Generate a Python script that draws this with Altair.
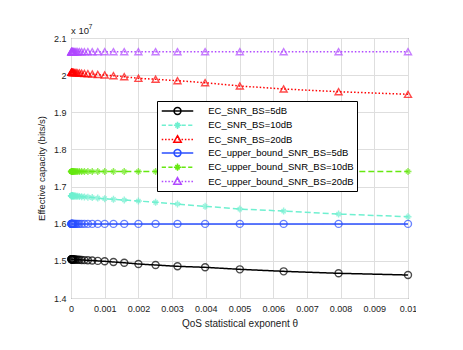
import altair as alt
import pandas as pd

# ---------------- data (capacity in units of 1e7 bits/s) ----------------
theta = [1.0e-5, 1.26e-5, 1.58e-5, 2.0e-5, 2.51e-5, 3.16e-5, 3.98e-5, 5.01e-5, 6.31e-5, 7.94e-5,
         1.0e-4, 1.26e-4, 1.58e-4, 2.0e-4, 2.51e-4, 3.16e-4, 3.98e-4, 5.01e-4, 6.31e-4, 7.94e-4,
         1.0e-3, 1.26e-3, 1.58e-3, 2.0e-3, 2.51e-3, 3.16e-3, 3.98e-3, 5.01e-3, 6.31e-3, 7.94e-3,
         1.0e-2]

ec_5db = [1.5042, 1.5041, 1.5041, 1.5041, 1.5040, 1.5040, 1.5040, 1.5039, 1.5039, 1.5038,
          1.5037, 1.5035, 1.5033, 1.5031, 1.5029, 1.5025, 1.5020, 1.5015, 1.5008, 1.4999,
          1.4988, 1.4969, 1.4950, 1.4915, 1.4888, 1.4853, 1.4826, 1.4772, 1.4718, 1.4665,
          1.4619]
ec_10db = [1.6754, 1.6754, 1.6753, 1.6753, 1.6752, 1.6752, 1.6751, 1.6750, 1.6749, 1.6748,
           1.6746, 1.6744, 1.6741, 1.6738, 1.6734, 1.6729, 1.6722, 1.6714, 1.6704, 1.6690,
           1.6673, 1.6657, 1.6638, 1.6611, 1.6576, 1.6530, 1.6468, 1.6395, 1.6341, 1.6260,
           1.6188]
ec_20db = [2.0077, 2.0077, 2.0076, 2.0076, 2.0075, 2.0075, 2.0074, 2.0073, 2.0072, 2.0071,
           2.0069, 2.0067, 2.0064, 2.0061, 2.0057, 2.0052, 2.0046, 2.0038, 2.0030, 2.0018,
           2.0004, 1.9985, 1.9958, 1.9915, 1.9890, 1.9850, 1.9796, 1.9708, 1.9627, 1.9554,
           1.9484]
ub_5db = [1.5995] * 31
ub_10db = [1.7405] * 31
ub_20db = [2.0630] * 31

names = ["EC_SNR_BS=5dB", "EC_SNR_BS=10dB", "EC_SNR_BS=20dB",
         "EC_upper_bound_SNR_BS=5dB", "EC_upper_bound_SNR_BS=10dB", "EC_upper_bound_SNR_BS=20dB"]
series_values = [ec_5db, ec_10db, ec_20db, ub_5db, ub_10db, ub_20db]

x_ticks = [0, 0.001, 0.002, 0.003, 0.004, 0.005, 0.006, 0.007, 0.008, 0.009, 0.01]
y_ticks = [1.4, 1.5, 1.6, 1.7, 1.8, 1.9, 2.0, 2.1]

# ---------------- styles ----------------
colors = ["#000000", "#6ff0d0", "#ff0000", "#2a4fff", "#66e810", "#b048ff"]
dashes = [[1, 0], [6, 3], [1.5, 2], [1, 0], [6, 3], [1.5, 2]]

star = "M-1,0L1,0M0,-1L0,1M-0.6,-0.6L0.6,0.6M-0.6,0.6L0.6,-0.6M-0.35,0L0,-0.35L0.35,0L0,0.35Z"
marker_shapes = ["circle", star, "triangle-up", "circle", star, "triangle-up"]


def seg_path(half, seg, gap):
    if gap <= 0:
        return f"M{-half},0L{half},0"
    parts, x = [], -half
    while x < half:
        x2 = min(x + seg, half)
        parts.append(f"M{x:.3f},0L{x2:.3f},0")
        x = x2 + gap
    return "".join(parts)


HALF = 2.625
solid = seg_path(HALF, 0, 0)
dashed = seg_path(HALF, 0.7, 0.4)
dotted = seg_path(HALF, 0.25, 0.3)
lg_circle = "M0.58,0A0.58,0.58 0 1 1 -0.58,0A0.58,0.58 0 1 1 0.58,0Z"
lg_star = ("M-0.6,0L0.6,0M0,-0.6L0,0.6M-0.36,-0.36L0.36,0.36M-0.36,0.36L0.36,-0.36"
           "M-0.2,0L0,-0.2L0.2,0L0,0.2Z")
lg_tri = "M0,-0.65L0.62,0.45L-0.62,0.45Z"
legend_paths = [solid + lg_circle, dashed + lg_star, dotted + lg_tri,
                solid + lg_circle, dashed + lg_star, dotted + lg_tri]

rows = []
for name, vals in zip(names, series_values):
    for t, v in zip(theta, vals):
        rows.append({"theta": t, "ec": v, "series": name})
df = pd.DataFrame(rows)
legend_df = pd.DataFrame({"series": names})

FONT = "Liberation Sans"

x_enc = alt.X("theta:Q", scale=alt.Scale(domain=[0, 0.01], nice=False, zero=False),
              axis=alt.Axis(values=x_ticks, format=".3~f", title="QoS statistical exponent θ",
                            labelPadding=6, titlePadding=5, labelFlush=False))
y_enc = alt.Y("ec:Q", scale=alt.Scale(domain=[1.4, 2.1], nice=False, zero=False),
              axis=alt.Axis(values=y_ticks, format=".1~f", title="Effective capacity (bits/s)",
                            labelPadding=5, titlePadding=7, titleFontSize=9.5))

color_scale = alt.Scale(domain=names, range=colors)

lines = alt.Chart(df).mark_line(strokeWidth=1.5).encode(
    x=x_enc, y=y_enc,
    color=alt.Color("series:N", scale=color_scale, legend=None),
    strokeDash=alt.StrokeDash("series:N", scale=alt.Scale(domain=names, range=dashes), legend=None),
)

points = alt.Chart(df).mark_point(filled=False, size=49, strokeWidth=1.4).encode(
    x=x_enc, y=y_enc,
    color=alt.Color("series:N", scale=color_scale, legend=None),
    shape=alt.Shape("series:N", scale=alt.Scale(domain=names, range=marker_shapes), legend=None),
)

leg = alt.Legend(title=None, orient="none", legendX=86, legendY=63, padding=3,
                 strokeColor="#000000", fillColor="white", cornerRadius=0,
                 symbolSize=144, symbolStrokeWidth=1.5, symbolOffset=10.5, symbolOpacity=1,
                 labelOffset=23.7, labelFont=FONT, labelFontSize=9.5, labelColor="#000000",
                 labelLimit=400, rowPadding=0.3)

legend_layer = alt.Chart(legend_df).mark_point(filled=False, opacity=0).encode(
    color=alt.Color("series:N", scale=color_scale, legend=leg),
    shape=alt.Shape("series:N", scale=alt.Scale(domain=names, range=legend_paths), legend=leg),
)

exp_base = alt.Chart(alt.Data(values=[{}])).mark_text(
    text="x 10", align="left", baseline="alphabetic", font=FONT, fontSize=9.5, color="#222222"
).encode(x=alt.value(0), y=alt.value(-4.5))
exp_sup = alt.Chart(alt.Data(values=[{}])).mark_text(
    text="7", align="left", baseline="alphabetic", font=FONT, fontSize=7, color="#222222"
).encode(x=alt.value(17.5), y=alt.value(-9))

chart = alt.layer(lines, points, legend_layer, exp_base, exp_sup).resolve_scale(
    color="independent", shape="independent"
).properties(
    width=337, height=260,
    padding={"left": 63, "top": 30, "right": 8, "bottom": 40},
    autosize=alt.AutoSizeParams(type="none"),
).configure_view(
    stroke="#555555", strokeWidth=1
).configure_axis(
    grid=True, gridColor="#dedede", gridWidth=1, domain=False, ticks=False,
    labelFont=FONT, labelFontSize=9, labelColor="#222222",
    titleFont=FONT, titleFontSize=10, titleFontWeight="normal", titleColor="#222222",
)

chart.save("out.html", embed_options={"renderer": "svg", "actions": False})
